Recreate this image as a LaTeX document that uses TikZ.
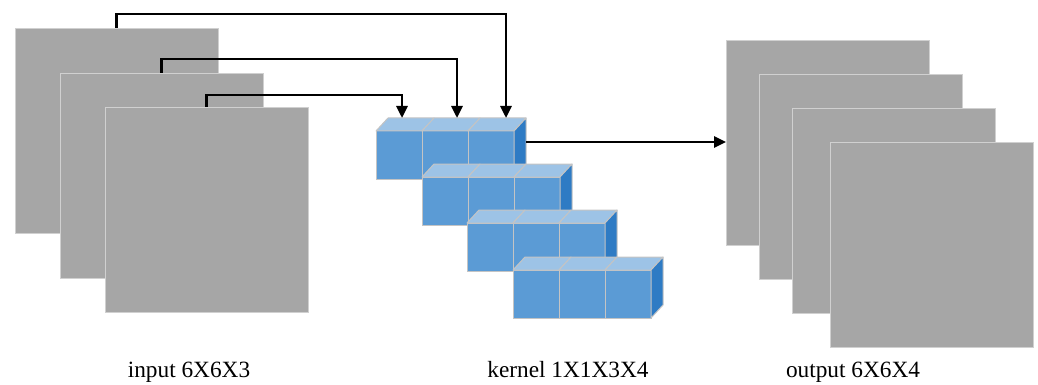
\documentclass[tikz,border=0pt]{standalone}
\usepackage{fontspec}
\setmainfont{Liberation Serif}
\usetikzlibrary{arrows.meta,calc}
\definecolor{sqgray}{HTML}{A6A6A6}
\definecolor{sqedge}{HTML}{D0D0D0}
\definecolor{kfrontc}{HTML}{5B9BD5}
\definecolor{ktopc}{HTML}{9DC3E6}
\definecolor{ksidec}{HTML}{2E7BC4}
\definecolor{kedge}{HTML}{C4C4C4}
\definecolor{kdiv}{HTML}{E8EEF6}
\tikzset{
  sq/.style={fill=sqgray, draw=sqedge, line width=0.8pt, anchor=north west,
    minimum width=203pt, minimum height=205pt, inner sep=0pt, outer sep=0pt},
  kfront/.style={fill=kfrontc, draw=kedge, line width=1pt, anchor=north west,
    minimum width=46pt, minimum height=48pt, inner sep=0pt, outer sep=0pt},
  ktop/.style={fill=ktopc, draw=kedge, line width=1pt, line join=round},
  kside/.style={fill=ksidec, draw=kedge, line width=1pt, line join=round},
  conn/.style={draw=black, line width=2.8pt, -{Triangle[length=12pt,width=11pt]}},
  lab/.style={anchor=base, inner sep=0pt, font=\fontsize{23.3}{28}\selectfont},
}
\newcommand\kcube[3]{%
  \node[kfront] (#1) at (#2,#3) {};
  \draw[ktop] (#1.north west) -- ++(12,-13) -- ++(46,0) -- (#1.north east) -- cycle;
}
\newcommand\kside[1]{%
  \draw[kside] (#1.north east) -- ++(12,-13) -- ++(0,48) -- (#1.south east) -- cycle;
}
\begin{document}
\begin{tikzpicture}[x=1pt,y=-1pt]
\useasboundingbox (0,0) rectangle (1038,385);
% input
\node[sq] (in1) at (15,28) {};
\node[sq] (in2) at (60,73) {};
\node[sq] (in3) at (105,107) {};
% kernel rows
\kcube{k11}{376}{131}\kcube{k12}{422}{131}\kcube{k13}{468}{131}\kside{k13}
\kcube{k21}{422}{177}\kcube{k22}{468}{177}\kcube{k23}{514}{177}\kside{k23}
\kcube{k31}{467}{223}\kcube{k32}{513}{223}\kcube{k33}{559}{223}\kside{k33}
\kcube{k41}{513}{270}\kcube{k42}{559}{270}\kcube{k43}{605}{270}\kside{k43}
% output
\node[sq] (out1) at (726,40) {};
\node[sq] (out2) at (759,74) {};
\node[sq] (out3) at (792,108) {};
\node[sq] (out4) at (830,142) {};
% connectors
\coordinate (t1) at (402,118);
\coordinate (t2) at (457,118);
\coordinate (t3) at (506,118);
\coordinate (ks) at (526,142);
\draw[conn] (in1.north) -- ++(0,-14) -| (t3);
\draw[conn] (in2.north) -- ++(0,-14) -| (t2);
\draw[conn] (in3.north) -- ++(0,-12) -| (t1);
\draw[conn] (ks) -- (out1.west |- ks);
% labels
\node[lab] (l1) at (189,377) {input 6X6X3};
\node[lab] (l2) at (568,377) {kernel 1X1X3X4};
\node[lab] (l3) at (853,377) {output 6X6X4};
\end{tikzpicture}
\end{document}
